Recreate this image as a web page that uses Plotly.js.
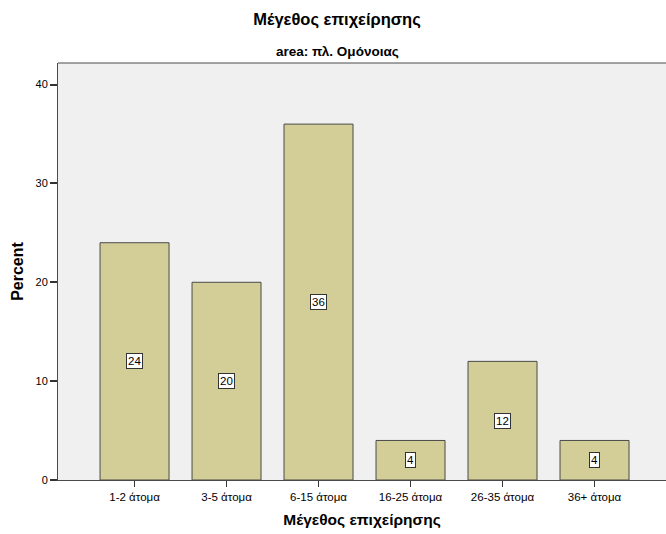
<!DOCTYPE html>
<html><head><meta charset="utf-8">
<script src="https://cdn.plot.ly/plotly-3.0.1.min.js"></script>
<style>body{margin:0;background:#fff}#chart{width:666px;height:534px}</style>
</head><body><div id="chart"></div>
<script>
const categories = ["1-2 άτομα","3-5 άτομα","6-15 άτομα","16-25 άτομα","26-35 άτομα","36+ άτομα"];
const percents = [24, 20, 36, 4, 12, 4];
const yTicks = [0, 10, 20, 30, 40];

const FONT = 'Liberation Sans, Arial';
const trace = {
  type: 'bar', x: categories, y: percents, width: 0.75,
  marker: {color: '#d3ce97', line: {color: '#4a4a4a', width: 1}},
  hoverinfo: 'skip'
};
const annotations = categories.map((c, i) => ({
  x: c, y: percents[i] / 2, xref: 'x', yref: 'y', text: String(percents[i]),
  showarrow: false, bgcolor: '#ffffff', bordercolor: '#333333', borderwidth: 1, borderpad: 1,
  font: {family: FONT, size: 11.5, color: '#000'}
}));
annotations.push({
  text: '<b>area: πλ. Ομόνοιας</b>', xref: 'paper', yref: 'paper', x: (337 - 58) / 608, y: 1,
  yanchor: 'bottom', yshift: 2, xanchor: 'center', showarrow: false,
  font: {family: FONT, size: 13.5, color: '#000'}
});

const layout = {
  width: 666, height: 534,
  margin: {l: 58, r: 0, t: 63, b: 54},
  paper_bgcolor: '#ffffff', plot_bgcolor: '#f0f0f0',
  title: {text: '<b>Μέγεθος επιχείρησης</b>', x: 337 / 666, xanchor: 'center', y: 1 - 19/534, yanchor: 'middle',
          font: {family: FONT, size: 16.5, color: '#000'}},
  font: {family: FONT, size: 11, color: '#000'},
  showlegend: false,
  xaxis: {
    type: 'category', range: [-0.832, 5.777], showgrid: false, zeroline: false,
    showline: true, linecolor: '#4a4a4a', linewidth: 1, mirror: false,
    ticks: 'outside', ticklen: 6, tickcolor: '#333', tickwidth: 1.5,
    tickfont: {family: FONT, size: 11.5, color: '#000'},
    title: {text: '<b>Μέγεθος επιχείρησης</b>', standoff: 12,
            font: {family: FONT, size: 15.5, color: '#000'}}
  },
  yaxis: {
    range: [0, 42.18], tickvals: yTicks, showgrid: false, zeroline: false,
    showline: true, linecolor: '#4a4a4a', linewidth: 1,
    ticks: 'outside', ticklen: 7, tickcolor: '#333', tickwidth: 2,
    tickfont: {family: FONT, size: 11, color: '#000'},
    title: {text: '<b>Percent</b>', standoff: 7,
            font: {family: FONT, size: 16, color: '#000'}}
  },
  shapes: [{type: 'line', xref: 'paper', yref: 'paper', x0: 0, x1: 1, y0: 1, y1: 1,
            line: {color: '#4a4a4a', width: 1}}],
  annotations: annotations
};
Plotly.newPlot('chart', [trace], layout, {displayModeBar: false, staticPlot: true});
</script></body></html>
